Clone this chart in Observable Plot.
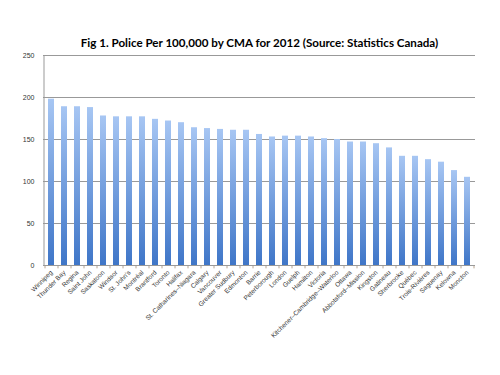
<!DOCTYPE html>
<html>
<head>
<meta charset="utf-8">
<script src="https://cdn.jsdelivr.net/npm/d3@7"></script>
<script src="https://cdn.jsdelivr.net/npm/@observablehq/plot@0.6"></script>
<style>
  html, body { margin: 0; padding: 0; background: #fff; }
  #chart { width: 500px; height: 375px; }
</style>
</head>
<body>
<div id="chart"></div>
<script>
const title = "Fig 1. Police Per 100,000 by CMA for 2012 (Source: Statistics Canada)";
const cities = ["Winnipeg","Thunder Bay","Regina","Saint John","Saskatoon","Windsor","St. John's","Montréal","Brantford","Toronto","Halifax","St. Catharines–Niagara","Calgary","Vancouver","Greater Sudbury","Edmonton","Barrie","Peterborough","London","Guelph","Hamilton","Victoria","Kitchener–Cambridge–Waterloo","Ottawa","Abbotsford–Mission","Kingston","Gatineau","Sherbrooke","Québec","Trois-Rivières","Saguenay","Kelowna","Moncton"];
const values = [198,189,189,188,178,177,177,177,174,172,170,164,163,162,161,161,156,153,154,154,153,151,150,147,147,145,140,130,130,126,123,113,105];
const yTicks = [0,50,100,150,200,250];

const data = cities.map((c, i) => ({city: c, value: values[i]}));

const gradient = () => {
  const defs = d3.create("svg:defs");
  const g = defs.append("linearGradient").attr("id", "barGrad")
    .attr("x1", 0).attr("y1", 0).attr("x2", 0).attr("y2", 1);
  g.append("stop").attr("offset", "0%").attr("stop-color", "#a7c6f3");
  g.append("stop").attr("offset", "100%").attr("stop-color", "#3f76c8");
  return defs.node();
};

const chart = Plot.plot({
  width: 500,
  height: 375,
  marginTop: 55,
  marginBottom: 110,
  marginLeft: 43,
  marginRight: 25,
  style: {fontFamily: "'Liberation Sans', Arial, sans-serif", background: "#fff"},
  x: {domain: cities, paddingInner: 0.57, paddingOuter: 0.36, label: null},
  y: {domain: [0, 250], ticks: yTicks, label: null},
  marks: [
    gradient,
    Plot.gridY(yTicks, {stroke: "#999", strokeOpacity: 1, strokeWidth: 1}),
    Plot.barY(data, {x: "city", y: "value", fill: "url(#barGrad)"}),
    Plot.ruleX(cities, {x: d => d, y1: 0, y2: -4, dx: -6.5, stroke: "#b8a48e"}),
    Plot.ruleX(cities.slice(-1), {x: d => d, y1: 0, y2: -4, dx: 6.5, stroke: "#b8a48e"}),
    Plot.ruleY([0], {stroke: "#999"}),
    Plot.ruleX([cities[0]], {x: d => d, dx: -7.5, y1: 0, y2: 250, stroke: "#999"}),
    Plot.axisY({ticks: yTicks, tickSize: 0, tickPadding: 9, fontSize: 7, fill: "#333", label: null}),
    Plot.axisX({tickSize: 0, tickRotate: -45, tickPadding: 6, fontSize: 6.5, fill: "#333", label: null}),
    Plot.text([title], {text: d => d, frameAnchor: "top", dy: -17, fontSize: 11.6, fontWeight: "bold", fill: "#000", fontFamily: "Lato, 'Open Sans', sans-serif"})
  ]
});
document.getElementById("chart").appendChild(chart);
</script>
</body>
</html>
